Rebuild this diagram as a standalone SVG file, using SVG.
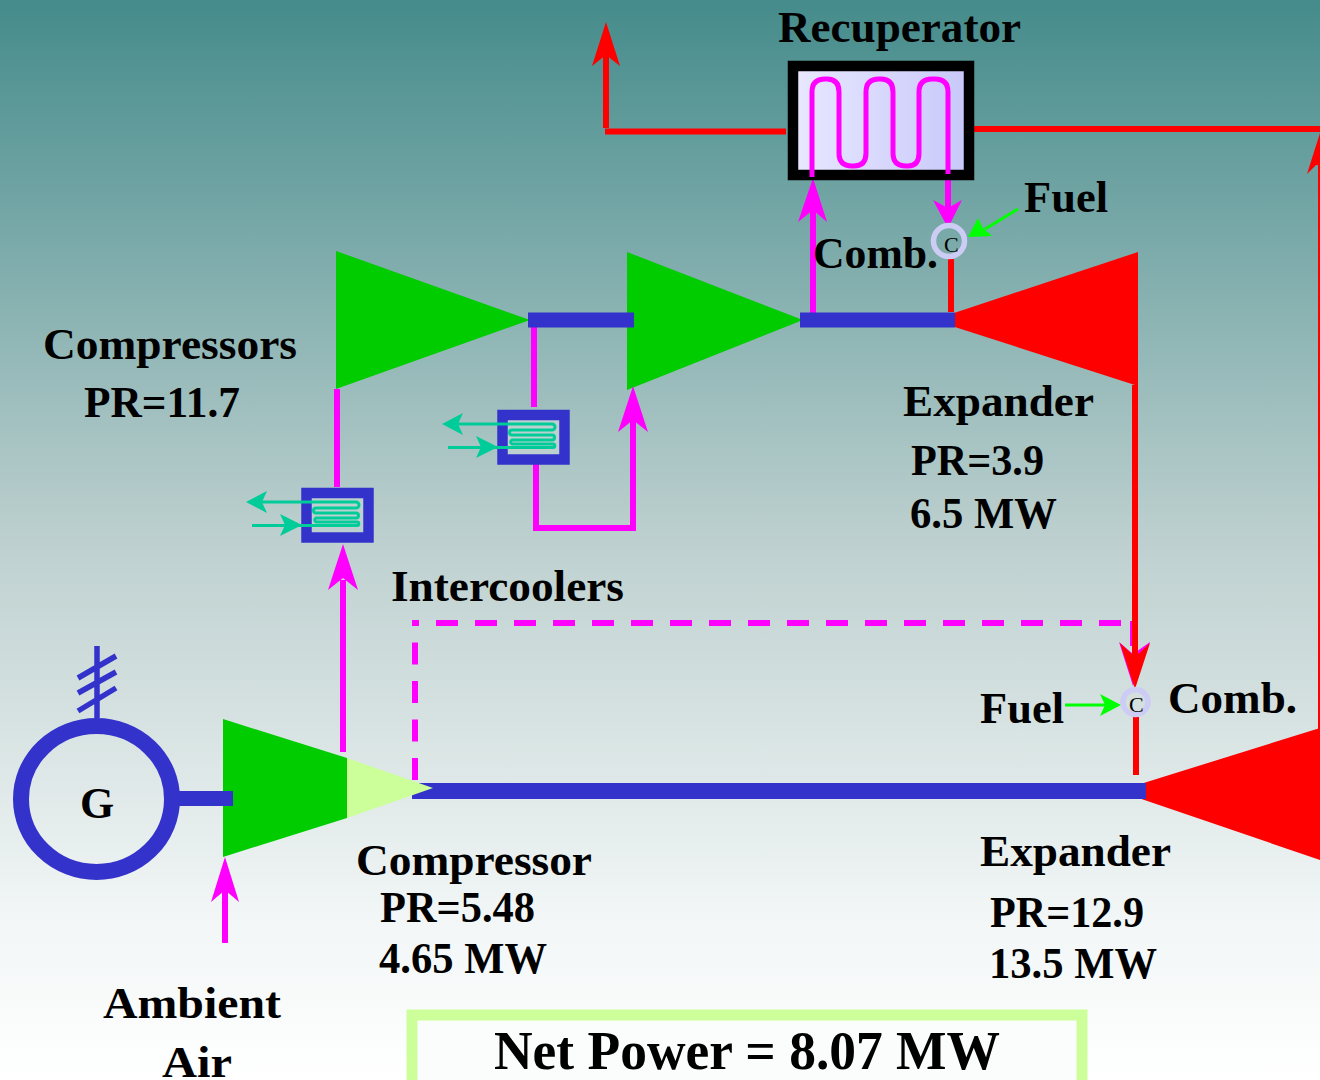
<svg xmlns="http://www.w3.org/2000/svg" width="1320" height="1080" viewBox="0 0 1320 1080">
<defs>
<linearGradient id="bg" x1="0" y1="0" x2="0" y2="1"><stop offset="0" stop-color="#458b8b"/><stop offset="0.5" stop-color="#bdd0cf"/><stop offset="0.85" stop-color="#f2f6f6"/><stop offset="1" stop-color="#ffffff"/></linearGradient>
<linearGradient id="rec" x1="0" y1="0" x2="1" y2="0"><stop offset="0" stop-color="#e8e8ff"/><stop offset="1" stop-color="#c8c8fa"/></linearGradient>
<g id="cooler">
<rect x="306.500" y="493" width="62" height="44.500" fill="#bdd0cf" stroke="#3333cc" stroke-width="10.500"/>
<path d="M258 502H356A3 3 0 0 1 356 508H316A2.500 2.500 0 0 0 316 513H356A2.500 2.500 0 0 1 356 518H316A2.200 2.200 0 0 0 316 522H357A1.500 1.500 0 0 1 357 525.500H252" class="t" stroke-width="3"/>
<path d="M302 525L280 514L285 525L280 536Z" class="th"/>
<path d="M246 502L267 491L262 502L267 513Z" class="th"/>
</g>
</defs>
<style>
text{font-family:"Liberation Serif","Times New Roman",serif;font-weight:bold;fill:#000;font-size:44px}
.m{fill:none;stroke:#f0f;stroke-width:6}
.r{fill:none;stroke:#f00;stroke-width:6}
.b{fill:none;stroke:#3333cc}
.t{fill:none;stroke:#00cc99}
.mh{fill:#f0f}.rh{fill:#f00}.th{fill:#00cc99}.gh{fill:#0f0}
text.c{font-weight:normal;font-size:22px}
</style>
<rect width="1320" height="1080" fill="url(#bg)"/>
<g id="compressor-hp1"><path d="M336 251L530 320L336 389Z" fill="#00cc00"/></g>
<g id="compressor-hp2"><path d="M627 252L803 320L627 390Z" fill="#00cc00"/></g>
<g id="expander-hp"><path d="M933 320L1138 252V386Z" fill="#f00"/></g>
<g id="expander-lp"><path d="M1118 791L1320 728V860Z" fill="#f00"/></g>
<g id="connectors">
<path class="r" stroke-width="5.500" d="M786 131.500H605"/><path class="r" d="M606 128V55"/><path class="rh" d="M606 22L620 66L606 55L592 66Z"/>
<path class="r" d="M974 129H1320"/><path class="r" d="M1321 165V730"/><path class="rh" d="M1320 133L1307 174L1316 165H1320Z"/>
<path class="m" d="M813 318V205"/><path class="mh" d="M813 178L827 222L813 210L798 222Z"/>
<path class="m" d="M948 180V215"/><path class="mh" d="M948 228L933 200L948 208L962 200Z"/>
<path class="r" d="M951 259V312"/>
<path class="m" d="M534 326V407"/><path class="m" d="M536 463V528H633V420"/><path class="mh" d="M633 386L648 432L633 420L618 432Z"/>
<path class="m" d="M337 389V487"/><path class="m" d="M343 752V580"/><path class="mh" d="M343 544L358 590L343 578L328 590Z"/>
<path class="m" d="M225 943V890"/><path class="mh" d="M225 857L239 902L225 890L211 902Z"/>
<path d="M415 780V623" fill="none" stroke="#f0f" stroke-width="6" stroke-dasharray="22 16.500"/>
<path d="M1121 623H412" fill="none" stroke="#f0f" stroke-width="6" stroke-dasharray="22 17"/>
<path class="m" d="M1133 621V646"/><path class="mh" d="M1133 686L1119 642L1133 654L1150 642Z"/>
<path class="r" d="M1135 385V660"/><path class="rh" d="M1135 689L1120 643L1135 657L1150 643Z"/>
<path class="r" d="M1136 717V775"/>
<path d="M1065 705H1106" stroke="#0f0" stroke-width="3" fill="none"/><path class="gh" d="M1121 705L1100 694L1105 705L1100 716Z"/>
<path d="M1018 209L985 229" stroke="#0f0" stroke-width="3" fill="none"/><path class="gh" d="M968 237L978 218L983 228L992 236Z"/>
<path class="b" stroke-width="15" d="M528 320H634"/>
<path class="b" stroke-width="15" d="M800 320H955"/>
<path class="b" stroke-width="16" d="M412 791H1146"/>
</g>
<g id="compressor-lp"><path d="M223 719L347 758V818L223 857Z" fill="#00cc00"/><path d="M347 758L433 788L347 818Z" fill="#ccff99"/></g>
<g id="recuperator">
<rect x="793" y="66" width="176" height="109" fill="url(#rec)" stroke="#000" stroke-width="10.500"/>
<path d="M812 177V92Q812 79 825 79H827Q839 79 839 92V153Q839 166 852 166H854Q866 166 866 153V92Q866 79 879 79H881Q893 79 893 92V153Q893 166 906 166H908Q919 166 919 153V92Q919 79 932 79H935Q948 79 948 92V174" fill="none" stroke="#f0f" stroke-width="5"/>
</g>
<g id="comb-top"><circle cx="949" cy="241" r="15.500" fill="none" stroke="#ccccf5" stroke-width="5.500"/><text class="c" x="944" y="252">C</text></g>
<g id="comb-bottom"><circle cx="1135.500" cy="702" r="12.500" fill="none" stroke="#ccccf5" stroke-width="5.500"/><text class="c" x="1129" y="712">C</text></g>
<g id="intercooler-1"><use href="#cooler"/></g>
<g id="intercooler-2"><use href="#cooler" transform="translate(196 -78)"/></g>
<g id="generator">
<ellipse cx="96.500" cy="799" rx="75.500" ry="73" fill="none" stroke="#3333cc" stroke-width="16"/>
<path class="b" stroke-width="15" d="M179 798.500H233"/>
<path class="b" stroke-width="5.500" d="M97 646V718M78 678L116 656M78 693L116 672M78 711L116 688"/>
<text x="80" y="818">G</text>
</g>
<g id="net-power"><rect x="412" y="1015" width="670" height="90" fill="#fbfcfc" stroke="#ccff99" stroke-width="11"/></g>
<g id="labels">
<text x="778" y="42" textLength="243" lengthAdjust="spacingAndGlyphs">Recuperator</text>
<text x="1024" y="212" textLength="84" lengthAdjust="spacingAndGlyphs">Fuel</text>
<text x="813" y="268" textLength="125" lengthAdjust="spacingAndGlyphs">Comb.</text>
<text x="43" y="359" textLength="254" lengthAdjust="spacingAndGlyphs">Compressors</text>
<text x="84" y="417" textLength="156" lengthAdjust="spacingAndGlyphs">PR=11.7</text>
<text x="903" y="416" textLength="191" lengthAdjust="spacingAndGlyphs">Expander</text>
<text x="911" y="475" textLength="133" lengthAdjust="spacingAndGlyphs">PR=3.9</text>
<text x="910" y="528" textLength="147" lengthAdjust="spacingAndGlyphs">6.5 MW</text>
<text x="391" y="601" textLength="233" lengthAdjust="spacingAndGlyphs">Intercoolers</text>
<text x="980" y="723" textLength="84" lengthAdjust="spacingAndGlyphs">Fuel</text>
<text x="1168" y="713" textLength="129" lengthAdjust="spacingAndGlyphs">Comb.</text>
<text x="356" y="875" textLength="236" lengthAdjust="spacingAndGlyphs">Compressor</text>
<text x="380" y="922" textLength="155" lengthAdjust="spacingAndGlyphs">PR=5.48</text>
<text x="379" y="973" textLength="168" lengthAdjust="spacingAndGlyphs">4.65 MW</text>
<text x="980" y="866" textLength="191" lengthAdjust="spacingAndGlyphs">Expander</text>
<text x="990" y="927" textLength="154" lengthAdjust="spacingAndGlyphs">PR=12.9</text>
<text x="989" y="978" textLength="168" lengthAdjust="spacingAndGlyphs">13.5 MW</text>
<text x="103" y="1018" textLength="178" lengthAdjust="spacingAndGlyphs">Ambient</text>
<text x="162" y="1077" textLength="70" lengthAdjust="spacingAndGlyphs">Air</text>
<text x="494" y="1069" style="font-size:54px" textLength="506" lengthAdjust="spacingAndGlyphs">Net Power = 8.07 MW</text>
</g>
</svg>
